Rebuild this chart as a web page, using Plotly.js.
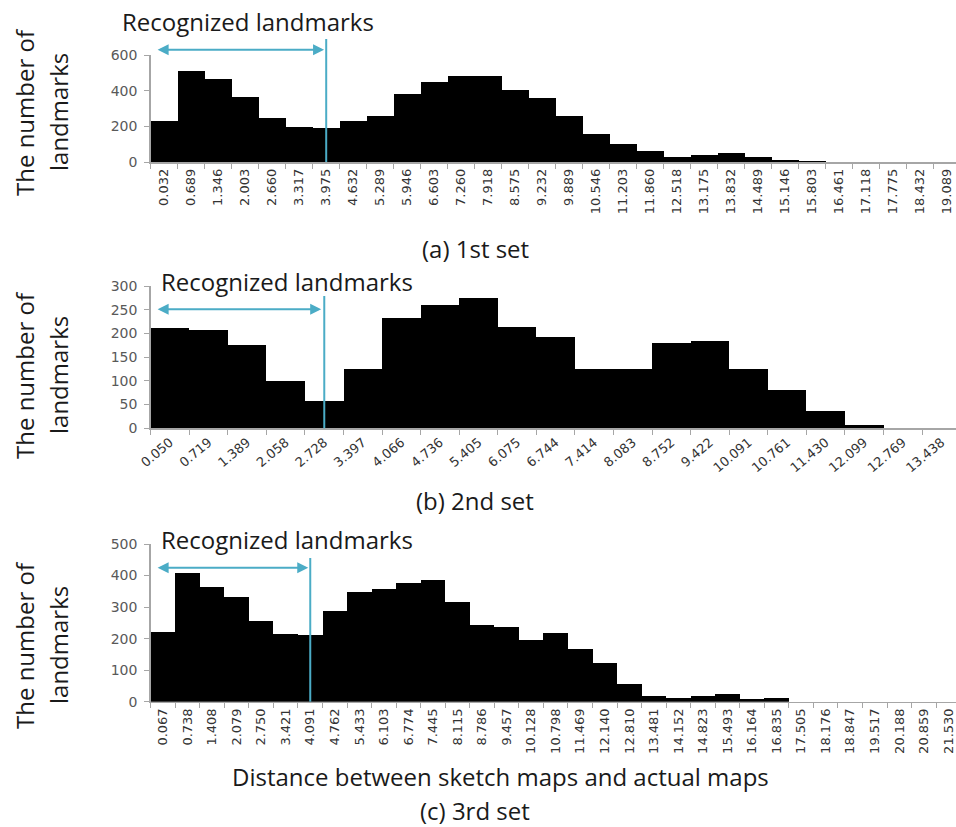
<!DOCTYPE html>
<html>
<head>
<meta charset="utf-8">
<script src="https://cdn.plot.ly/plotly-3.0.1.min.js"></script>
<style>
  html, body { margin: 0; padding: 0; overflow: hidden; background: #ffffff; }
  #chart { width: 966px; height: 827px; }
</style>
</head>
<body>
<div id="chart"></div>
<script>
// Histogram bins (bin start labels) and landmark counts for the three sets
const bins1 = ["0.032","0.689","1.346","2.003","2.660","3.317","3.975","4.632","5.289","5.946",
  "6.603","7.260","7.918","8.575","9.232","9.889","10.546","11.203","11.860","12.518",
  "13.175","13.832","14.489","15.146","15.803","16.461","17.118","17.775","18.432","19.089"];
const counts1 = [231,512,468,367,246,199,192,229,259,384,
  451,483,483,404,361,256,159,101,60,30,
  37,52,30,13,6,0,0,0,0,0];

const bins2 = ["0.050","0.719","1.389","2.058","2.728","3.397","4.066","4.736","5.405","6.075",
  "6.744","7.414","8.083","8.752","9.422","10.091","10.761","11.430","12.099","12.769","13.438"];
const counts2 = [211,207,176,99,57,125,232,261,274,213,
  193,126,124,179,184,126,81,37,7,0,0];

const bins3 = ["0.067","0.738","1.408","2.079","2.750","3.421","4.091","4.762","5.433","6.103",
  "6.774","7.445","8.115","8.786","9.457","10.128","10.798","11.469","12.140","12.810",
  "13.481","14.152","14.823","15.493","16.164","16.835","17.505","18.176","18.847","19.517",
  "20.188","20.859","21.530"];
const counts3 = [220,407,363,332,257,215,210,288,348,358,
  375,385,316,242,238,196,219,166,124,56,
  19,11,19,26,8,13,0,0,0,0,
  0,0,0];

// Bin where the "recognized" range ends in each set
const cutoffs = ["3.975", "2.728", "4.091"];
const yMax = [600, 300, 500];
const yStep = [200, 50, 100];
const captions = ["(a) 1st set", "(b) 2nd set", "(c) 3rd set"];

const W = 966, H = 827;
const px = v => v / W;
const py = v => 1 - v / H;

const BLUE = "#4bacc6";
const TEXT_FONT = { family: "Open Sans, sans-serif", size: 24, color: "#1a1a1a" };

// Pixel boxes of the three plotting areas: [left, right, top, bottom]
const boxes = [
  [150.7, 960.7, 55, 162],
  [150.7, 960.7, 286, 428.3],
  [150.7, 960.7, 544, 701.7]
];

// Marker placement (page pixels) for the recognized-range arrow and boundary line
const markerTop = [39, 296, 558];
const arrowRow = [49.7, 309.3, 567.7];
const arrowStart = [-0.3, -0.36, -0.28];

const sets = [
  { bins: bins1, counts: counts1, angle: -90 },
  { bins: bins2, counts: counts2, angle: -40 },
  { bins: bins3, counts: counts3, angle: -90 }
];

const data = [];
const layout = {
  width: W, height: H,
  margin: { l: 0, r: 0, t: 0, b: 0 },
  paper_bgcolor: "#ffffff",
  plot_bgcolor: "#ffffff",
  showlegend: false,
  bargap: 0,
  shapes: [],
  annotations: []
};

sets.forEach((s, i) => {
  const n = i === 0 ? "" : String(i + 1);
  const xa = "x" + n, ya = "y" + n;
  const b = boxes[i];

  data.push({
    type: "bar",
    x: s.bins,
    y: s.counts,
    xaxis: xa, yaxis: ya,
    marker: { color: "#000000", line: { color: "#000000", width: 0 } },
    hoverinfo: "x+y"
  });

  layout["xaxis" + n] = {
    type: "category",
    domain: [px(b[0]), px(b[1])],
    anchor: ya,
    range: [-0.5, s.bins.length - 0.5],
    autorange: false,
    showline: true, linecolor: "#a6a6a6", linewidth: 1.5,
    ticks: "outside", tickson: "boundaries", ticklen: 5, tickcolor: "#a6a6a6",
    tickangle: s.angle,
    tickfont: { family: "DejaVu Sans, sans-serif", size: 13, color: "#333333" },
    showgrid: false, zeroline: false, fixedrange: true
  };
  layout["yaxis" + n] = {
    domain: [py(b[3]), py(b[2])],
    anchor: xa,
    range: [0, yMax[i]],
    autorange: false,
    dtick: yStep[i], tick0: 0,
    showline: true, linecolor: "#a6a6a6", linewidth: 1.5,
    ticks: "outside", ticklen: 5, tickcolor: "#a6a6a6",
    ticklabelstandoff: 4,
    tickfont: { family: "DejaVu Sans, sans-serif", size: 14, color: "#595959" },
    showgrid: false, zeroline: false, fixedrange: true
  };

  // Boundary of the recognized range
  const cut = s.bins.indexOf(cutoffs[i]);
  layout.shapes.push({
    type: "line", xref: xa, yref: "paper",
    x0: cut, x1: cut, y0: py(b[3]), y1: py(markerTop[i]),
    line: { color: BLUE, width: 2 }
  });
  layout.annotations.push({
    xref: xa, yref: "paper", axref: xa, ayref: "pixel",
    x: cut - 0.08, y: py(arrowRow[i]), ax: arrowStart[i], ay: 0,
    text: "", showarrow: true,
    arrowhead: 2, startarrowhead: 2, arrowside: "end+start",
    arrowsize: 1.1, startarrowsize: 1.1, arrowwidth: 2, arrowcolor: BLUE
  });

  // "Recognized landmarks" label
  const labelX = [248, 287, 287][i];
  const labelY = [22, 281, 539][i];
  layout.annotations.push({
    xref: "paper", yref: "paper", x: px(labelX), y: py(labelY),
    xanchor: "center", yanchor: "middle",
    text: "Recognized landmarks", showarrow: false, font: TEXT_FONT
  });

  // Two-line vertical axis title
  const titleY = [112, 375, 645][i];
  layout.annotations.push({
    xref: "paper", yref: "paper", x: px(24), y: py(titleY),
    xanchor: "center", yanchor: "middle", textangle: -90,
    text: "The number of", showarrow: false, font: TEXT_FONT
  });
  layout.annotations.push({
    xref: "paper", yref: "paper", x: px(58), y: py(titleY),
    xanchor: "center", yanchor: "middle", textangle: -90,
    text: "landmarks", showarrow: false, font: TEXT_FONT
  });

  // Panel caption
  const capY = [249, 500, 810][i];
  layout.annotations.push({
    xref: "paper", yref: "paper", x: px(475), y: py(capY),
    xanchor: "center", yanchor: "middle",
    text: captions[i], showarrow: false, font: TEXT_FONT
  });
});

// Horizontal axis title of the bottom panel
layout.annotations.push({
  xref: "paper", yref: "paper", x: px(500), y: py(776),
  xanchor: "center", yanchor: "middle",
  text: "Distance between sketch maps and actual maps", showarrow: false, font: TEXT_FONT
});

Plotly.newPlot("chart", data, layout, { displayModeBar: false, staticPlot: true });
</script>
</body>
</html>
